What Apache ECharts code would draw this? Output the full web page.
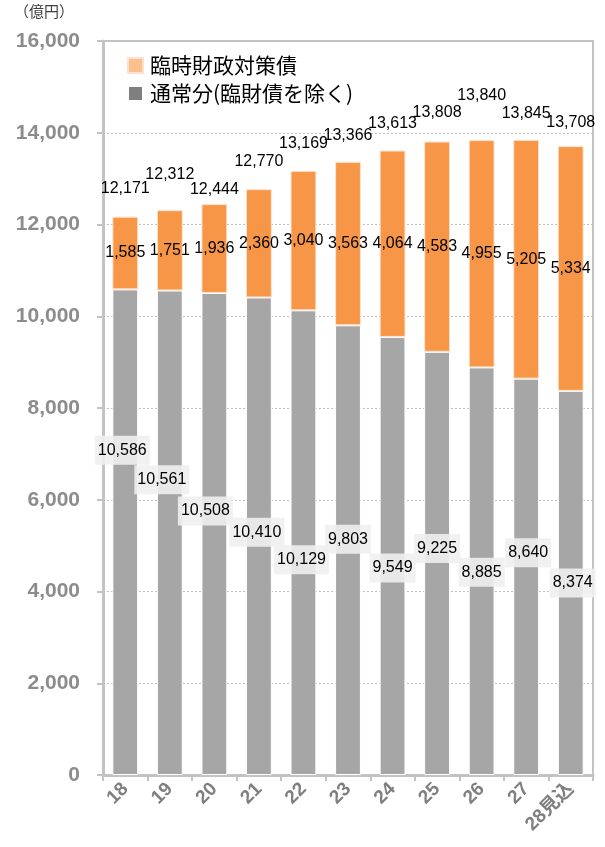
<!DOCTYPE html>
<html>
<head>
<meta charset="utf-8">
<script src="https://cdn.jsdelivr.net/npm/echarts@6/dist/echarts.min.js"></script>
<style>
  html, body { margin: 0; padding: 0; background: #fff; }
  #chart { width: 605px; height: 847px; }
</style>
</head>
<body>
<div id="chart"></div>
<script>
// Fiscal years (平成) and amounts in 億円
const categories = ['18', '19', '20', '21', '22', '23', '24', '25', '26', '27', '28見込'];
const regularValues = [10586, 10561, 10508, 10410, 10129, 9803, 9549, 9225, 8885, 8640, 8374];
const specialValues = [1585, 1751, 1936, 2360, 3040, 3563, 4064, 4583, 4955, 5205, 5334];
const totalValues = [12171, 12312, 12444, 12770, 13169, 13366, 13613, 13808, 13840, 13845, 13708];
const yTicks = { min: 0, max: 16000, interval: 2000 };

const seriesNames = ['臨時財政対策債', '通常分(臨財債を除く)'];

// label nudges (px) so neighbouring labels don't collide
const regularLabelShift = [[-3, -82], [-8, -53], [-9, -23], [-2, -4], [-2, 17], [0, -11], [0, 12], [0, -15], [0, 1], [2, -24], [2, 0]];
const totalLabelShift = [-15, -22, -1, -14, -14, -13, -13, -15, -31, -13, -10];

const ORANGE = '#F79646';
const GREY = '#A6A6A6';
const AXIS_GREY = '#C3C3C3';
const LABEL_FONT = '"Liberation Sans", Arial, sans-serif';

const chart = echarts.init(document.getElementById('chart'), null, { renderer: 'canvas' });

const fmt = v => Number(v).toLocaleString('en-US');

chart.setOption({
  animation: false,
  backgroundColor: '#fff',
  textStyle: { fontFamily: LABEL_FONT },
  grid: {
    left: 103, right: 12, top: 41, bottom: 72,
    show: true, borderColor: AXIS_GREY, borderWidth: 2, backgroundColor: 'transparent'
  },
  graphic: [{
    type: 'text', left: 14, top: 4,
    style: { text: '（億円）', fontSize: 15, fill: '#404040', fontFamily: '"Noto Sans CJK JP", sans-serif' }
  }],
  legend: {
    orient: 'vertical',
    left: 122, top: 50,
    itemWidth: 15, itemHeight: 15, itemGap: 7,
    icon: 'rect',
    textStyle: { fontSize: 21, color: '#000', fontFamily: '"Noto Sans CJK JP", sans-serif', padding: [0, 0, 0, 2] },
    data: [
      { name: seriesNames[0], itemStyle: { color: '#FCC08F' } },
      { name: seriesNames[1], itemStyle: { color: '#7F7F7F' } }
    ]
  },
  xAxis: {
    type: 'category',
    data: categories,
    boundaryGap: true,
    axisLine: { lineStyle: { color: AXIS_GREY, width: 3 } },
    axisTick: { show: true, alignWithLabel: false, length: 6, lineStyle: { color: AXIS_GREY, width: 2 } },
    axisLabel: {
      rotate: 45, margin: 11, fontSize: 19, fontWeight: 'bold', color: '#7F7F7F',
      fontFamily: '"Liberation Sans", "Noto Sans CJK JP", sans-serif'
    }
  },
  yAxis: {
    type: 'value',
    min: yTicks.min, max: yTicks.max, interval: yTicks.interval,
    axisLine: { show: true, lineStyle: { color: AXIS_GREY, width: 3 } },
    axisTick: { show: true, length: 6, lineStyle: { color: AXIS_GREY, width: 2 } },
    axisLabel: {
      margin: 23, fontSize: 21, fontWeight: 'bold', color: '#8C8C8C',
      formatter: v => fmt(v)
    },
    splitLine: { show: true, lineStyle: { color: '#BFBFBF', type: [2, 2], width: 1 } }
  },
  series: [
    {
      name: seriesNames[1],
      type: 'bar',
      stack: 'total',
      barWidth: '58%',
      data: regularValues.map((v, i) => ({
        value: v,
        label: { offset: regularLabelShift[i] }
      })),
      itemStyle: { color: GREY, borderColor: '#ffffff', borderWidth: 1 },
      label: {
        show: true, position: 'inside', fontSize: 16, color: '#000',
        backgroundColor: 'rgba(240,240,240,0.9)', padding: [7, 3, 6, 3],
        formatter: p => fmt(p.value)
      },
      z: 2
    },
    {
      name: seriesNames[0],
      type: 'bar',
      stack: 'total',
      barWidth: '58%',
      data: specialValues,
      itemStyle: { color: ORANGE, borderColor: '#FDE3CF', borderWidth: 1 },
      label: {
        show: true, position: 'inside', fontSize: 16, color: '#000',
        formatter: p => fmt(p.value)
      },
      z: 2
    },
    {
      // stack totals: invisible points carrying the value labels
      name: '合計',
      type: 'line',
      data: totalValues.map((v, i) => ({
        value: v,
        label: { offset: [0, totalLabelShift[i]] }
      })),
      symbol: 'circle',
      symbolSize: 1,
      showSymbol: true,
      itemStyle: { color: 'rgba(0,0,0,0)' },
      lineStyle: { width: 0, color: 'rgba(0,0,0,0)' },
      label: {
        show: true, position: 'top', distance: 5, fontSize: 16, color: '#000',
        formatter: p => fmt(p.value)
      },
      silent: true,
      z: 3
    }
  ]
});
</script>
</body>
</html>
